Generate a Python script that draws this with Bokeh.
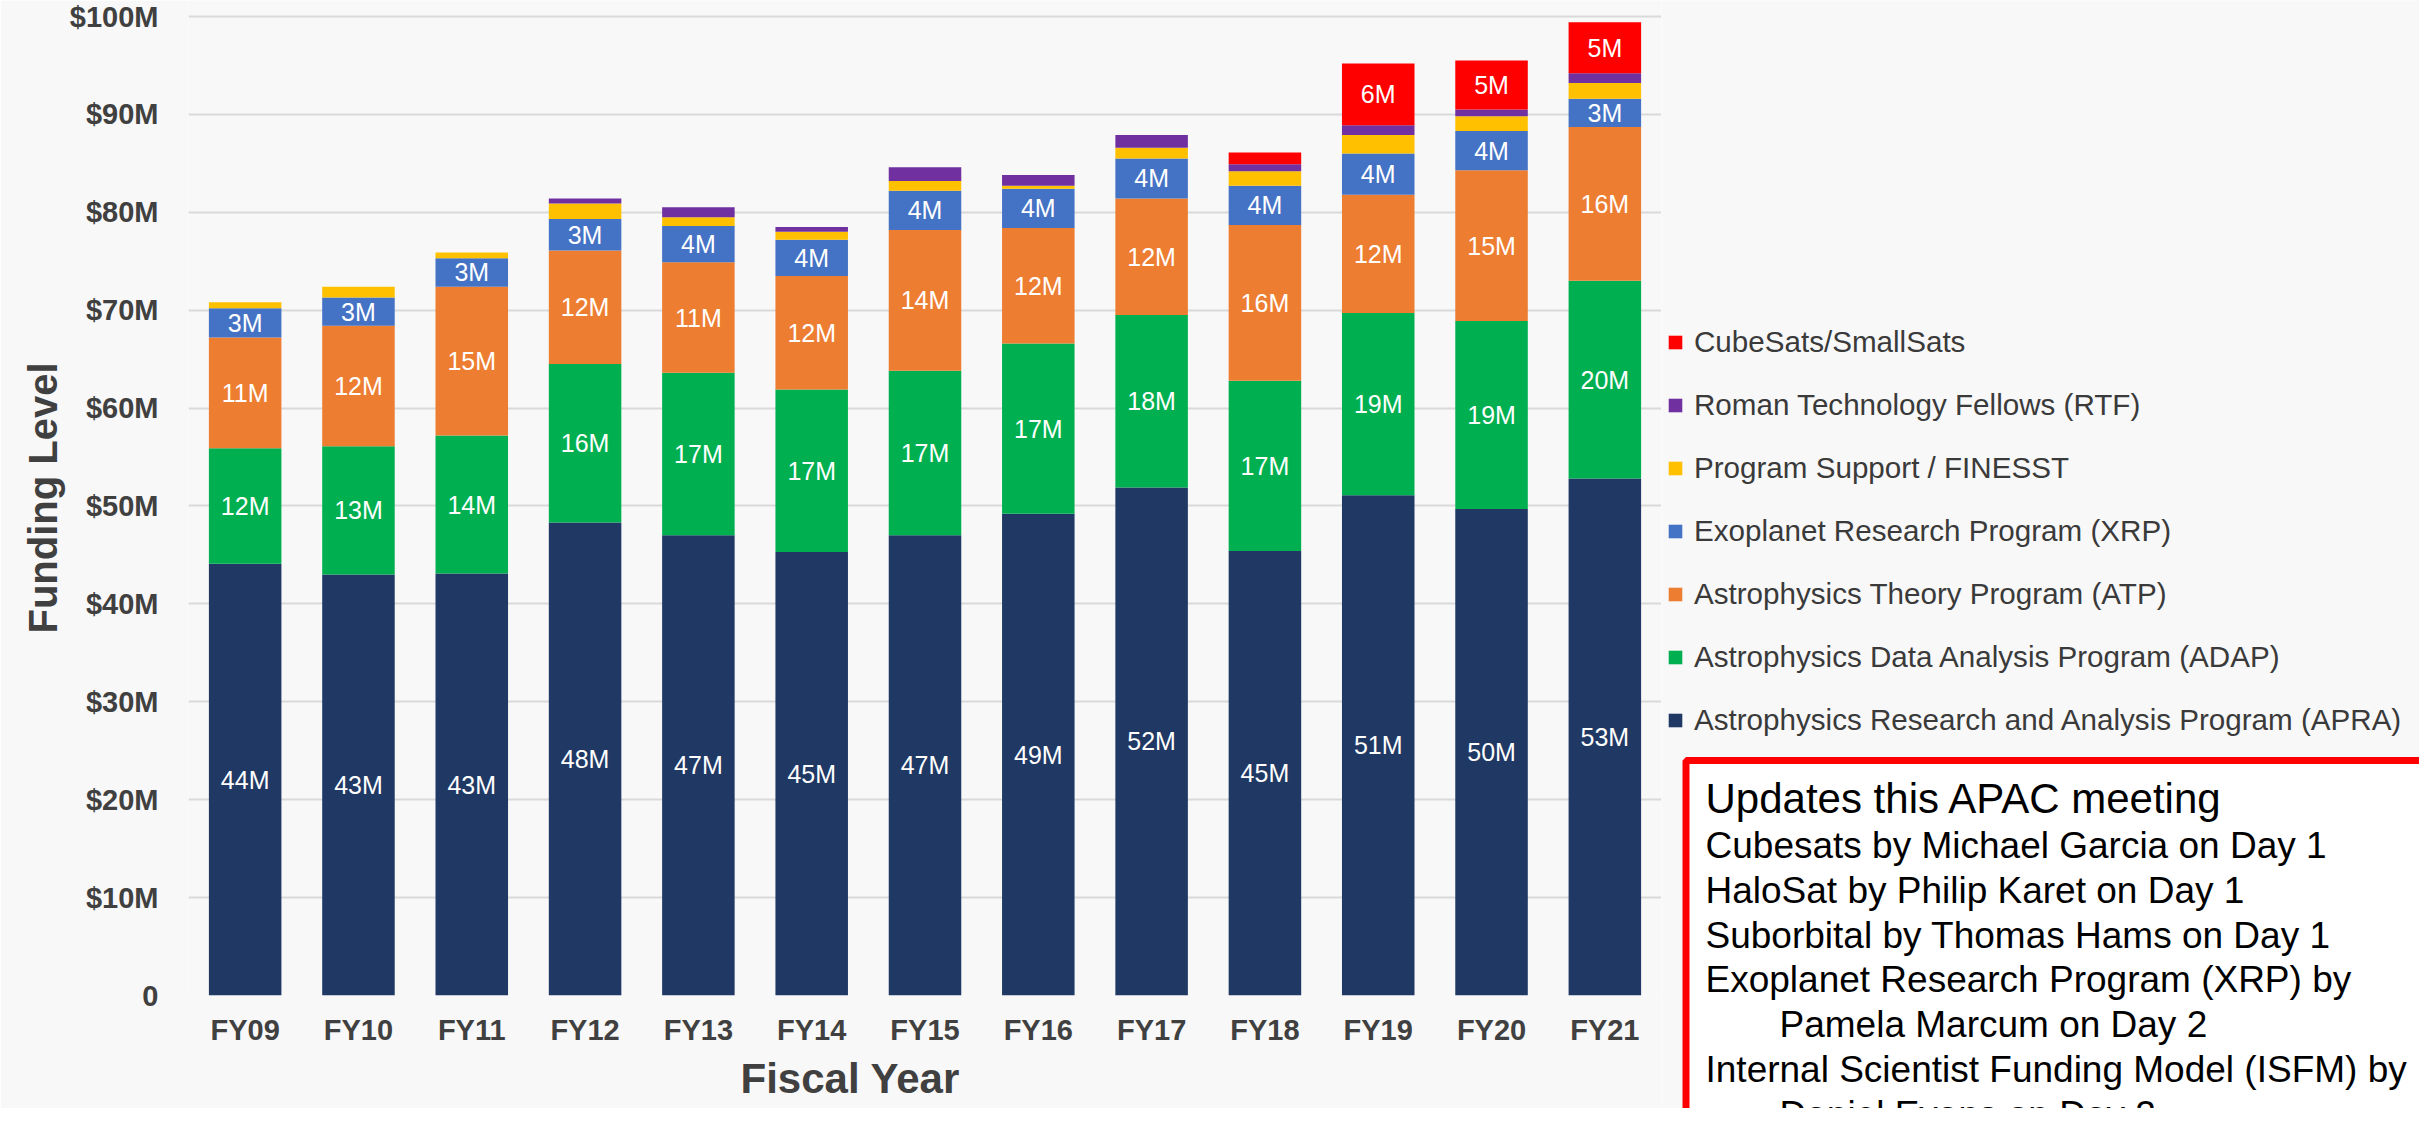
from bokeh.plotting import figure
from bokeh.models import (ColumnDataSource, FactorRange, Range1d, FixedTicker, Title,
                          Legend, LegendItem)
from bokeh.layouts import row
from bokeh.embed import file_html
from bokeh.resources import INLINE
from bokeh.core.properties import value

# ---------------- data ($M) ----------------
years = ["FY09", "FY10", "FY11", "FY12", "FY13", "FY14", "FY15",
         "FY16", "FY17", "FY18", "FY19", "FY20", "FY21"]
apra     = [44.1, 43.0, 43.1, 48.3, 47.0, 45.3, 47.0, 49.2, 51.9, 45.4, 51.1, 49.7, 52.8]
adap     = [11.8, 13.1, 14.1, 16.2, 16.6, 16.6, 16.8, 17.4, 17.6, 17.4, 18.6, 19.2, 20.2]
atp      = [11.3, 12.3, 15.2, 11.6, 11.3, 11.6, 14.4, 11.8, 11.9, 15.9, 12.1, 15.4, 15.7]
xrp      = [3.0, 2.9, 2.9, 3.2, 3.7, 3.7, 4.0, 4.0, 4.1, 4.0, 4.2, 4.0, 2.9]
support  = [0.6, 1.1, 0.6, 1.6, 0.9, 0.8, 1.0, 0.3, 1.1, 1.5, 1.9, 1.5, 1.6]
rtf      = [0.0, 0.0, 0.0, 0.5, 1.0, 0.5, 1.4, 1.1, 1.3, 0.7, 1.0, 0.7, 1.0]
cubesats = [0.0, 0.0, 0.0, 0.0, 0.0, 0.0, 0.0, 0.0, 0.0, 1.2, 6.3, 5.0, 5.2]

series_keys = ["apra", "adap", "atp", "xrp", "support", "rtf", "cubesats"]
series_names = ["Astrophysics Research and Analysis Program (APRA)",
                "Astrophysics Data Analysis Program (ADAP)",
                "Astrophysics Theory Program (ATP)",
                "Exoplanet Research Program (XRP)",
                "Program Support / FINESST",
                "Roman Technology Fellows (RTF)",
                "CubeSats/SmallSats"]
colors = ["#1f3864", "#00b050", "#ed7d31", "#4472c4", "#ffc000", "#7030a0", "#ff0000"]

y_ticks = [0, 10, 20, 30, 40, 50, 60, 70, 80, 90, 100]
y_tick_labels = ["0", "$10M", "$20M", "$30M", "$40M", "$50M", "$60M",
                 "$70M", "$80M", "$90M", "$100M"]

note_title = "Updates this APAC meeting"
note_lines = ["Cubesats by Michael Garcia on Day 1",
              "HaloSat by Philip Karet on Day 1",
              "Suborbital by Thomas Hams on Day 1",
              "Exoplanet Research Program (XRP) by",
              "Pamela Marcum on Day 2",
              "Internal Scientist Funding Model (ISFM) by",
              "Daniel Evans on Day 2"]
note_indent = [0, 0, 0, 0, 1, 0, 1]

# ---------------- style ----------------
BG = "#f8f8f8"
FONT = "Liberation Sans"
TXT = "#404040"

data = dict(year=years, apra=apra, adap=adap, atp=atp, xrp=xrp,
            support=support, rtf=rtf, cubesats=cubesats)
source = ColumnDataSource(data)

p = figure(x_range=FactorRange(factors=years), y_range=Range1d(0, 101.63),
           width=1661, height=1108, output_backend="svg", toolbar_location=None,
           min_border_left=188, min_border_right=0, min_border_top=0, min_border_bottom=113,
           background_fill_color=BG, border_fill_color=BG, outline_line_color=None)
p.frame_align = False

p.vbar_stack(series_keys, x="year", width=0.64, fill_color=colors, line_color=None,
             source=source)

# segment value labels
lab_x, lab_y, lab_t = [], [], []
for i, yr in enumerate(years):
    base = 0.0
    for k in series_keys:
        v = data[k][i]
        if v >= 2.5:
            lab_x.append(yr)
            lab_y.append(base + v / 2.0)
            lab_t.append(f"{round(v)}M")
        base += v
p.text(x=lab_x, y=lab_y, text=lab_t, text_align="center", text_baseline="middle",
       text_color="white", text_font=value(FONT), text_font_size="25px")

# axes
for ax in (p.xaxis[0], p.yaxis[0]):
    ax.axis_line_color = None
    ax.major_tick_line_color = None
    ax.minor_tick_line_color = None
    ax.major_tick_out = 0
    ax.major_tick_in = 0
    ax.major_label_text_font = FONT
    ax.major_label_text_font_size = "29px"
    ax.major_label_text_font_style = "bold"
    ax.major_label_text_color = TXT

p.yaxis.ticker = FixedTicker(ticks=y_ticks)
p.yaxis.major_label_overrides = {t: l for t, l in zip(y_ticks, y_tick_labels)}
p.yaxis.major_label_standoff = 30
p.yaxis.axis_label = "Funding Level"
p.yaxis.axis_label_text_font = FONT
p.yaxis.axis_label_text_font_size = "40px"
p.yaxis.axis_label_text_font_style = "bold"
p.yaxis.axis_label_text_color = TXT
p.yaxis.axis_label_standoff = 2

p.xaxis.major_label_standoff = 18

p.xgrid.grid_line_color = None
p.ygrid.grid_line_color = "#d9d9d9"
p.ygrid.grid_line_width = 2

p.add_layout(Title(text="Fiscal Year", align="left", offset=552, text_font=FONT,
                   text_font_size="42px", text_font_style="bold", text_color=TXT,
                   standoff=8), "below")

# ---------------- right panel: legend + note box ----------------
W2, H2 = 758, 1108
p2 = figure(width=W2, height=H2, x_range=Range1d(0, W2), y_range=Range1d(0, H2),
            output_backend="svg", toolbar_location=None, x_axis_type=None, y_axis_type=None,
            min_border=0, min_border_left=0, min_border_right=0, min_border_top=0,
            min_border_bottom=0, background_fill_color=BG, border_fill_color=BG,
            outline_line_color=None)
p2.frame_align = False
p2.grid.visible = False

items = []
for name, c in zip(reversed(series_names), reversed(colors)):
    r = p2.scatter([-1000], [-1000], marker="square", size=13, fill_color=c, line_color=None)
    items.append(LegendItem(label=name, renderers=[r]))
leg = Legend(items=items, location=(-3, 371), glyph_width=34, glyph_height=34,
             label_height=34, spacing=29, label_standoff=2, padding=0, margin=0,
             border_line_color=None, background_fill_alpha=0,
             label_text_font=FONT, label_text_font_size="29.6px", label_text_color="#3a3a3a")
p2.add_layout(leg)

p2.quad(left=[24.5], right=[W2 + 100], top=[348], bottom=[-100],
        fill_color="white", line_color="#ff0000", line_width=7)

text_x0 = 44
indent = 74
title_base = 295
body_base0 = 250
line_gap = 44.8
p2.text(x=[text_x0], y=[title_base + 0.905 * 42], text=[note_title], text_baseline="top",
        text_align="left", text_color="black", text_font=value(FONT), text_font_size="42px")
nx = [text_x0 + indent * k for k in note_indent]
ny = [body_base0 - line_gap * i + 0.905 * 37 for i in range(len(note_lines))]
p2.text(x=nx, y=ny, text=note_lines, text_baseline="top", text_align="left",
        text_color="black", text_font=value(FONT), text_font_size="37px")

layout = row(p, p2)
open("out.html", "w").write(file_html(layout, INLINE))
